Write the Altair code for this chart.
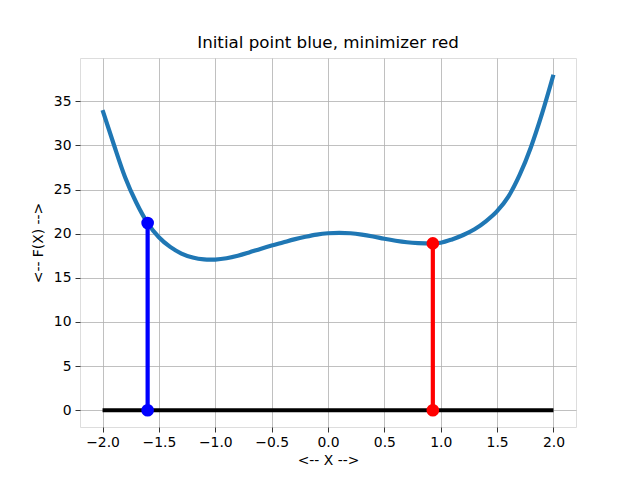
import altair as alt
import pandas as pd

# Curve F(X)
curve_x = [-2.0, -1.9, -1.8, -1.7, -1.6, -1.5, -1.4, -1.3, -1.2, -1.1, -1.05, -1.0,
           -0.9, -0.8, -0.7, -0.6, -0.5, -0.4, -0.3, -0.2, -0.1, 0.0, 0.1, 0.2,
           0.3, 0.4, 0.5, 0.6, 0.7, 0.8, 0.93, 1.0, 1.1, 1.2, 1.3, 1.4, 1.5,
           1.6, 1.7, 1.8, 1.9, 2.0]
curve_y = [34.0, 30.1, 26.4, 23.5, 21.2, 19.6, 18.5, 17.75, 17.3, 17.08, 17.05, 17.07,
           17.22, 17.5, 17.87, 18.27, 18.65, 19.0, 19.35, 19.65, 19.9, 20.05, 20.1, 20.05,
           19.9, 19.68, 19.42, 19.2, 19.03, 18.93, 18.88, 18.97, 19.35, 19.85, 20.5, 21.4, 22.55,
           24.2, 26.65, 29.8, 33.65, 38.0]

# Baseline from -2 to 2 at zero
base_x0 = [-2.0]
base_x1 = [2.0]
base_y = [0.0]

# Initial point (blue) and minimizer (red)
pt_x = [-1.6, 0.93]
pt_y = [21.2, 18.9]
pt_color = ["#0000ff", "#ff0000"]

x_ticks = [-2.0, -1.5, -1.0, -0.5, 0.0, 0.5, 1.0, 1.5, 2.0]
y_ticks = [0, 5, 10, 15, 20, 25, 30, 35]

FONT = "DejaVu Sans"

curve_df = pd.DataFrame({"x": curve_x, "y": curve_y})
base_df = pd.DataFrame({"x": base_x0, "x2": base_x1, "y": base_y})
stem_df = pd.DataFrame({"x": pt_x, "y": pt_y, "y0": [0.0] * len(pt_x), "c": pt_color})
dots_df = pd.DataFrame({
    "x": pt_x + pt_x,
    "y": pt_y + [0.0] * len(pt_x),
    "c": pt_color + pt_color,
})

x_scale = alt.Scale(domain=[-2.2, 2.2], nice=False, zero=False)
y_scale = alt.Scale(domain=[-1.9, 39.9], nice=False, zero=False)

x_axis = alt.Axis(values=x_ticks, format=".1f", title="<-- X -->", grid=True,
                  gridColor="#b0b0b0", gridWidth=0.8, domain=False,
                  tickColor="black", tickSize=5, tickWidth=0.8,
                  labelFont=FONT, labelFontSize=13.9, labelColor="black", labelPadding=3,
                  titleFont=FONT, titleFontSize=13.9, titleFontWeight="normal",
                  titleColor="black", titlePadding=5)
y_axis = alt.Axis(values=y_ticks, format="d", title="<-- F(X) -->", grid=True,
                  gridColor="#b0b0b0", gridWidth=0.8, domain=False,
                  tickColor="black", tickSize=5, tickWidth=0.8,
                  labelFont=FONT, labelFontSize=13.9, labelColor="black", labelPadding=4,
                  titleFont=FONT, titleFontSize=13.9, titleFontWeight="normal",
                  titleColor="black", titlePadding=8)

curve = alt.Chart(curve_df).mark_line(
    color="#1f77b4", strokeWidth=4.2, interpolate="monotone"
).encode(
    x=alt.X("x:Q", scale=x_scale, axis=x_axis),
    y=alt.Y("y:Q", scale=y_scale, axis=y_axis),
)

base = alt.Chart(base_df).mark_rule(color="black", strokeWidth=4.2).encode(
    x=alt.X("x:Q", scale=x_scale),
    x2="x2:Q",
    y=alt.Y("y:Q", scale=y_scale),
)

stems = alt.Chart(stem_df).mark_rule(strokeWidth=4.2).encode(
    x=alt.X("x:Q", scale=x_scale),
    y=alt.Y("y0:Q", scale=y_scale),
    y2="y:Q",
    color=alt.Color("c:N", scale=None),
)

dots = alt.Chart(dots_df).mark_point(filled=True, size=160, opacity=1, shape="circle").encode(
    x=alt.X("x:Q", scale=x_scale),
    y=alt.Y("y:Q", scale=y_scale),
    color=alt.Color("c:N", scale=None),
)

chart = alt.layer(curve, base, stems, dots).properties(
    width=496,
    height=369,
    title=alt.TitleParams("Initial point blue, minimizer red", font=FONT, fontSize=16.7,
                          fontWeight="normal", color="black", offset=6),
    autosize=alt.AutoSizeParams(type="none"),
    padding={"left": 72, "top": 50, "right": 56, "bottom": 45},
).configure_view(
    stroke="black", strokeWidth=0.8
).configure(background="white")

chart.save("out.html", embed_options={"renderer": "svg", "actions": False})
